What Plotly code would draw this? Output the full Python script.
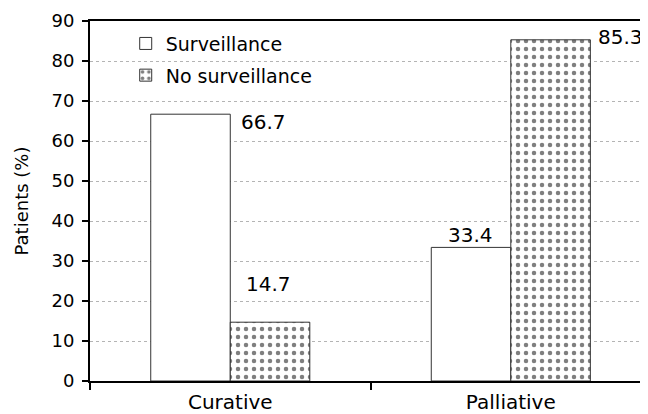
import plotly.graph_objects as go

categories = ["Curative", "Palliative"]
surveillance = [66.7, 33.4]
no_surveillance = [14.7, 85.3]
series_names = ["Surveillance", "No surveillance"]
y_ticks = [0, 10, 20, 30, 40, 50, 60, 70, 80, 90]

FONT = "DejaVu Sans"

fig = go.Figure()
fig.add_trace(go.Bar(
    x=categories, y=surveillance, name=series_names[0],
    marker=dict(color="white", line=dict(color="#333333", width=1)),
    legendgroup="a",
))
fig.add_trace(go.Bar(
    x=categories, y=no_surveillance, name=series_names[1],
    marker=dict(color="white", line=dict(color="#333333", width=1),
                pattern=dict(shape=".", fgcolor="black", bgcolor="white",
                             size=8, solidity=0.25, fillmode="overlay")),
    legendgroup="b",
))

# value labels (positions relative to each bar top)
label_specs = [
    (categories[0], surveillance[0], 9, -8, "left"),
    (categories[0], no_surveillance[0], 38, 38, "center"),
    (categories[1], surveillance[1], -40, 12, "center"),
    (categories[1], no_surveillance[1], 85, 3, "left"),
]
for cat, val, dx, dy, anc in label_specs:
    fig.add_annotation(x=cat, y=val, xref="x", yref="y", text=f"{val}",
                       showarrow=False, xshift=dx, yshift=dy, xanchor=anc,
                       yanchor="middle", font=dict(family=FONT, size=20, color="black"))

fig.update_layout(
    width=640, height=406,
    margin=dict(l=82, r=0, t=13, b=33, autoexpand=False),
    paper_bgcolor="white", plot_bgcolor="white",
    barmode="group", bargap=0.433, bargroupgap=0,
    font=dict(family=FONT, size=18, color="black"),
    showlegend=True,
    legend=dict(x=0.064, y=0.99, xanchor="left", yanchor="top",
                bgcolor="rgba(0,0,0,0)", borderwidth=0,
                traceorder="grouped", tracegroupgap=4,
                font=dict(family=FONT, size=19, color="black")),
)
fig.update_xaxes(
    range=[-0.5, 1.489], showline=True, linecolor="black", linewidth=2,
    mirror=True, ticks="outside", tickson="boundaries", ticklen=7,
    tickwidth=2, tickcolor="black", showgrid=False, automargin=False,
    ticklabelstandoff=2,
    tickfont=dict(family=FONT, size=20, color="black"),
)
fig.update_yaxes(
    range=[0, 90], tickvals=y_ticks, showline=True, linecolor="black",
    linewidth=2, ticks="outside", ticklen=6, tickwidth=2, tickcolor="black",
    showgrid=True, gridcolor="#b4b4b4", griddash="dot", gridwidth=1,
    zeroline=False, ticklabelstandoff=4, automargin=False,
    tickfont=dict(family=FONT, size=18, color="black"),
    title=dict(text="Patients (%)", font=dict(family=FONT, size=18, color="black"),
               standoff=18),
)

fig.write_html("out.html")
